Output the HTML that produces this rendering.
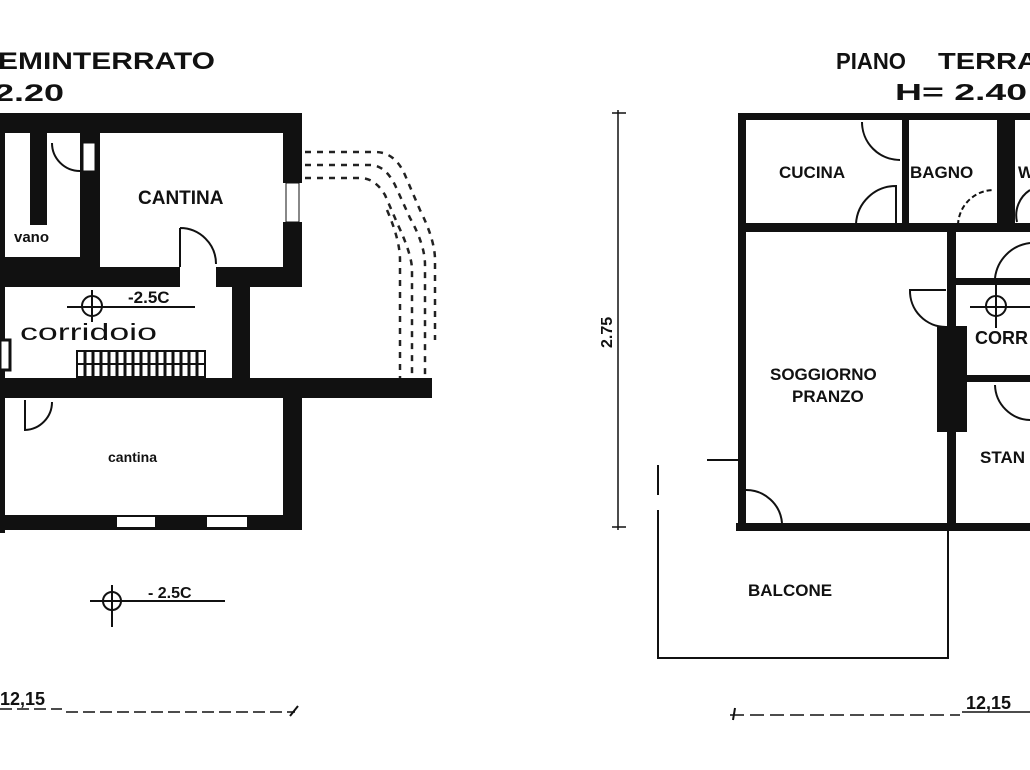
<!DOCTYPE html>
<html><head><meta charset="utf-8"><style>
html,body{margin:0;padding:0;background:#fff;}
svg{display:block}
text{font-family:"Liberation Sans",sans-serif;font-weight:bold;fill:#111}
</style></head><body>
<svg width="1030" height="770" viewBox="0 0 1030 770" xmlns="http://www.w3.org/2000/svg">
<rect width="1030" height="770" fill="#fff"/>
<!-- LEFT PLAN -->
<text x="-2" y="69" font-size="24" textLength="217" lengthAdjust="spacingAndGlyphs">EMINTERRATO</text>
<text x="-6" y="101" font-size="24" textLength="70" lengthAdjust="spacingAndGlyphs">2.20</text>
<g fill="#111">
<rect x="0" y="113" width="302" height="20"/>
<rect x="0" y="113" width="5" height="420"/>
<rect x="30" y="133" width="17" height="92"/>
<rect x="80" y="133" width="20" height="154"/>
<rect x="0" y="257" width="100" height="30"/>
<rect x="283" y="113" width="19" height="70"/>
<rect x="283" y="222" width="19" height="65"/>
<rect x="97" y="267" width="205" height="20"/>
<rect x="232" y="287" width="18" height="92"/>
<rect x="0" y="378" width="432" height="20"/>
<rect x="283" y="398" width="19" height="132"/>
<rect x="0" y="515" width="302" height="15"/>
</g>
<rect x="83" y="143" width="12" height="28" fill="#fff" stroke="#111" stroke-width="1"/>
<path d="M52 143 A28 28 0 0 0 80 171" fill="none" stroke="#111" stroke-width="2"/>
<rect x="117" y="517" width="38" height="10" fill="#fff"/>
<rect x="207" y="517" width="40" height="10" fill="#fff"/>
<rect x="286" y="183" width="13" height="39" fill="#fff" stroke="#111" stroke-width="1"/>
<rect x="180" y="267" width="36" height="20" fill="#fff"/>
<path d="M180 228 L180 267 M180 228 A36 36 0 0 1 216 264" fill="none" stroke="#111" stroke-width="2"/>
<rect x="0" y="340" width="10" height="30" fill="#fff" stroke="#111" stroke-width="3"/>
<path d="M25 400 L25 430 A28 28 0 0 0 52 402" fill="none" stroke="#111" stroke-width="2"/>
<g stroke="#111" fill="none" stroke-width="2">
<rect x="77" y="351" width="128" height="26"/>
<line x1="77" y1="364" x2="205" y2="364"/>
</g>
<g stroke="#111" stroke-width="3">
<path d="M85 351V377M93 351V377M101 351V377M109 351V377M117 351V377M125 351V377M133 351V377M141 351V377M149 351V377M157 351V377M165 351V377M173 351V377M181 351V377M189 351V377M197 351V377"/>
</g>
<g fill="none" stroke="#222" stroke-width="2.5" stroke-dasharray="6 6">
<path d="M305 152 H375 Q395 152 405 175 L420 210 Q435 240 435 260 V340"/>
<path d="M305 165 H370 Q385 165 395 185 L410 218 Q425 245 425 265 V378"/>
<path d="M305 178 H360 Q375 178 385 195 L398 225 Q412 255 412 270 V378"/>
<path d="M387 210 Q400 240 400 260 V378"/>
</g>
<g stroke="#111" fill="none" stroke-width="2">
<circle cx="92" cy="306" r="10"/>
<path d="M67 307 H195 M92 290 V322"/>
<circle cx="112" cy="601" r="9"/>
<path d="M90 601 H225 M112 585 V627"/>
</g>
<text x="128" y="303" font-size="17">-2.5C</text>
<text x="148" y="598" font-size="16">- 2.5C</text>
<text x="138" y="204" font-size="19">CANTINA</text>
<text x="14" y="242" font-size="15">vano</text>
<text x="20" y="340" font-size="23" style="font-weight:normal" textLength="137" lengthAdjust="spacingAndGlyphs">corridoio</text>
<text x="108" y="462" font-size="14">cantina</text>
<text x="0" y="705" font-size="18">12,15</text>
<path d="M0 709 H62 M66 712 H295" stroke="#111" stroke-width="1.5" stroke-dasharray="12 5" fill="none"/>
<path d="M290 716 L298 706" stroke="#111" stroke-width="2"/>
<!-- RIGHT PLAN -->
<text x="836" y="69" font-size="23" textLength="70" lengthAdjust="spacingAndGlyphs">PIANO</text>
<text x="938" y="69" font-size="23" textLength="100" lengthAdjust="spacingAndGlyphs">TERRA</text>
<text x="895" y="100" font-size="23" textLength="132" lengthAdjust="spacingAndGlyphs">H= 2.40</text>
<path d="M618 110 V530 M612 113 H626 M612 527 H626" stroke="#111" stroke-width="1.5" fill="none"/>
<text x="0" y="0" font-size="16" transform="translate(612 348) rotate(-90)">2.75</text>
<g fill="#111">
<rect x="740" y="113" width="290" height="7"/>
<rect x="738" y="113" width="8" height="417"/>
<rect x="738" y="223" width="292" height="9"/>
<rect x="902" y="113" width="7" height="115"/>
<rect x="997" y="113" width="18" height="115"/>
<rect x="947" y="228" width="9" height="302"/>
<rect x="937" y="326" width="30" height="106"/>
<rect x="956" y="278" width="74" height="7"/>
<rect x="967" y="375" width="63" height="7"/>
<rect x="736" y="523" width="294" height="8"/>
</g>
<g fill="none" stroke="#111" stroke-width="2">
<path d="M862 122 A38 38 0 0 0 900 160"/>
<path d="M856 224 A40 40 0 0 1 896 186 V224"/>
<path d="M958 225 A36 36 0 0 1 994 190" stroke-dasharray="5 3"/>
<path d="M1030 190 A30 30 0 0 0 1017 222"/>
<path d="M1030 243 A40 40 0 0 0 995 278"/>
<path d="M946 290 H910 A36 36 0 0 0 946 327"/>
<path d="M995 385 A36 36 0 0 0 1030 420"/>
<path d="M746 490 A36 36 0 0 1 782 523"/>
<path d="M707 460 H738"/>
<path d="M658 510 V658 H948 V531"/>
<path d="M658 465 V495" />
</g>
<g stroke="#111" stroke-width="2" fill="none">
<circle cx="996" cy="306" r="10"/>
<path d="M970 307 H1030 M996 283 V328"/>
</g>
<text x="779" y="178" font-size="17">CUCINA</text>
<text x="910" y="178" font-size="17">BAGNO</text>
<text x="1018" y="178" font-size="17">W</text>
<text x="975" y="344" font-size="18">CORR</text>
<text x="770" y="380" font-size="17">SOGGIORNO</text>
<text x="792" y="402" font-size="17">PRANZO</text>
<text x="980" y="463" font-size="17">STAN</text>
<text x="748" y="596" font-size="17">BALCONE</text>
<path d="M730 715 H960" stroke="#111" stroke-width="1.5" stroke-dasharray="14 6" fill="none"/>
<path d="M733 720 L735 708" stroke="#111" stroke-width="2"/>
<text x="966" y="709" font-size="18">12,15</text>
<path d="M962 712 H1030" stroke="#111" stroke-width="1.5"/>
</svg>
</body></html>
